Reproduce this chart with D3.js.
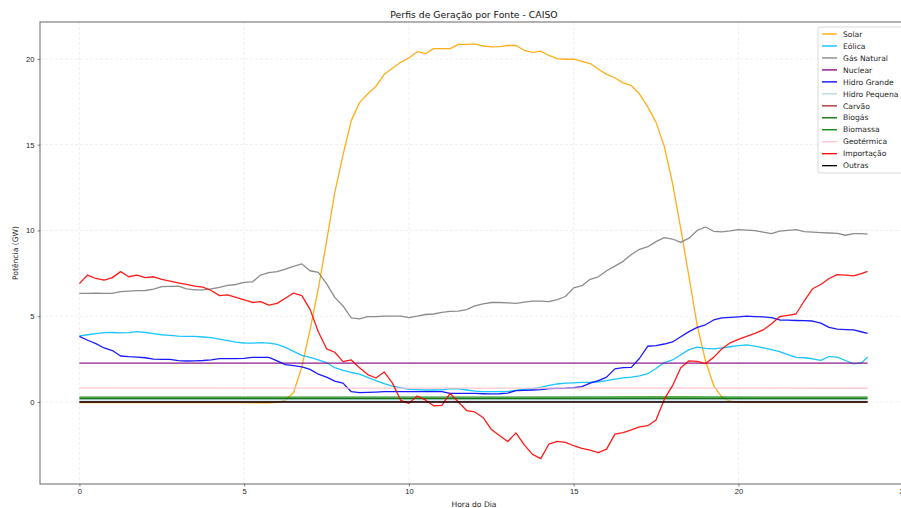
<!DOCTYPE html>
<html>
<head>
<meta charset="utf-8">
<script src="https://cdn.jsdelivr.net/npm/d3@7"></script>
<style>
  body { margin: 0; background: #fff; }
  svg { font-family: "DejaVu Sans", sans-serif; }
  .grid line { stroke: #e8e8e8; stroke-width: 0.7; stroke-dasharray: 3,2; }
  .axis path { display: none; }
  .axis line { stroke: #333; stroke-width: 0.6; }
  .axis text { font-size: 7.6px; fill: #222; }
</style>
</head>
<body>
<script>
// hour of day, 15 minute steps (last sample at 23:55)
const hours = d3.range(0, 24, 0.25).concat([23.92]);
// coarse hours for the almost constant sources
const hoursFlat = [0, 6, 12, 18, 23.92];

const xTicks = [0, 5, 10, 15, 20, 25];
const yTicks = [0, 5, 10, 15, 20];

// values in GW
const solar = [
  -0.03, -0.03, -0.03, -0.03, -0.03, -0.03, -0.03, -0.03,
  -0.03, -0.03, -0.03, -0.03, -0.03, -0.03, -0.03, -0.03,
  -0.03, -0.03, -0.03, -0.03, -0.03, -0.05, -0.03, -0.05,
  -0.02, 0.1, 0.55, 2.05, 4.2, 6.6, 9.35, 12.2,
  14.4, 16.4, 17.45, 17.95, 18.4, 19.1, 19.45, 19.8,
  20.05, 20.42, 20.3, 20.6, 20.6, 20.6, 20.85, 20.85,
  20.87, 20.75, 20.7, 20.72, 20.78, 20.78, 20.5, 20.38,
  20.45, 20.2, 20.02, 19.98, 19.98, 19.85, 19.73, 19.4,
  19.1, 18.9, 18.6, 18.45, 17.95, 17.2, 16.3, 14.9,
  12.75, 10.1, 7.3, 4.45, 2.4, 0.95, 0.27, 0.05,
  -0.02, -0.02, -0.02, -0.02, -0.02, -0.02, -0.02, -0.02,
  -0.02, -0.02, -0.02, -0.02, -0.02, -0.02, -0.02, -0.02,
  -0.02
];
const wind = [
  3.85, 3.92, 3.98, 4.04, 4.05, 4.03, 4.04, 4.1,
  4.05, 3.98, 3.92, 3.88, 3.84, 3.83, 3.82, 3.79,
  3.75, 3.66, 3.58, 3.49, 3.44, 3.43, 3.46, 3.43,
  3.36, 3.18, 2.95, 2.72, 2.6, 2.46, 2.3, 2.0,
  1.85, 1.72, 1.63, 1.43, 1.25, 1.07, 0.93, 0.83,
  0.74, 0.72, 0.7, 0.7, 0.71, 0.78, 0.76, 0.7,
  0.63, 0.6, 0.6, 0.6, 0.62, 0.68, 0.73, 0.78,
  0.85, 0.97, 1.05, 1.1, 1.12, 1.14, 1.15, 1.18,
  1.24, 1.33, 1.4, 1.45, 1.52, 1.65, 1.95, 2.3,
  2.45, 2.75, 3.05, 3.2, 3.12, 3.1, 3.16, 3.22,
  3.28, 3.33, 3.26, 3.15, 3.05, 2.93, 2.76, 2.6,
  2.58, 2.52, 2.43, 2.65, 2.62, 2.42, 2.22, 2.3,
  2.62
];
const gas = [
  6.33, 6.33, 6.34, 6.33, 6.33, 6.43, 6.46, 6.49,
  6.5, 6.58, 6.72, 6.74, 6.76, 6.6, 6.53, 6.53,
  6.6, 6.68, 6.8, 6.85, 6.97, 7.0, 7.4, 7.54,
  7.6, 7.75, 7.9, 8.05, 7.65, 7.55, 6.9, 6.1,
  5.6, 4.9, 4.85, 4.98, 4.98, 5.0, 5.01, 5.01,
  4.92, 5.0, 5.1, 5.13, 5.22, 5.28, 5.3, 5.38,
  5.6, 5.72, 5.8, 5.8, 5.78, 5.75, 5.82, 5.88,
  5.88, 5.85, 5.97, 6.15, 6.65, 6.78, 7.15, 7.3,
  7.65, 7.92, 8.2, 8.6, 8.9, 9.05, 9.35, 9.58,
  9.5, 9.3, 9.55, 10.0, 10.2, 9.95, 9.92, 9.97,
  10.05, 10.02, 9.99, 9.9, 9.82, 9.96, 10.0, 10.05,
  9.93, 9.9, 9.87, 9.85, 9.83, 9.72, 9.82, 9.82,
  9.78
];
const hydroBig = [
  3.82, 3.6, 3.4, 3.15, 3.0, 2.68, 2.64, 2.62,
  2.58, 2.5, 2.48, 2.48, 2.41, 2.39, 2.4, 2.42,
  2.46, 2.53, 2.53, 2.53, 2.54, 2.6, 2.6, 2.6,
  2.4, 2.18, 2.12, 2.05, 1.9, 1.62, 1.45, 1.22,
  1.1, 0.6, 0.55, 0.56, 0.58, 0.6, 0.6, 0.6,
  0.6, 0.6, 0.6, 0.6, 0.6, 0.5, 0.5, 0.5,
  0.5, 0.48, 0.47, 0.48, 0.52, 0.66, 0.68, 0.7,
  0.72, 0.78, 0.79, 0.8, 0.83, 0.9, 1.1, 1.25,
  1.45, 1.93, 2.0, 2.02, 2.55, 3.25, 3.29, 3.38,
  3.5, 3.8, 4.1, 4.35, 4.5, 4.78, 4.9, 4.93,
  4.96, 5.0, 4.98, 4.96, 4.92, 4.78, 4.77, 4.75,
  4.74, 4.72, 4.6, 4.35, 4.25, 4.22, 4.2, 4.08,
  4.0
];
const imports = [
  6.9, 7.4, 7.2, 7.1, 7.25, 7.6, 7.3, 7.4,
  7.25, 7.3, 7.15, 7.05, 6.95, 6.85, 6.75, 6.7,
  6.5, 6.2, 6.25, 6.1, 5.95, 5.8, 5.85, 5.65,
  5.75, 6.05, 6.35, 6.2, 5.4, 4.1, 3.1, 2.9,
  2.35, 2.45, 2.0, 1.6, 1.4, 1.75, 1.1, 0.1,
  -0.08, 0.35, 0.12, -0.22, -0.2, 0.5, 0.0, -0.5,
  -0.58, -0.9, -1.6, -1.95, -2.3, -1.8, -2.5, -3.05,
  -3.3, -2.45, -2.3, -2.35, -2.55, -2.7, -2.8, -2.95,
  -2.75, -1.87, -1.79, -1.62, -1.45, -1.38, -1.05, 0.15,
  0.95, 2.0, 2.4, 2.37, 2.24, 2.6, 3.1, 3.45,
  3.65, 3.82, 4.0, 4.2, 4.55, 4.97, 5.05, 5.13,
  5.9, 6.6, 6.85, 7.2, 7.42, 7.4, 7.35, 7.5,
  7.62
];
const nuclear = [2.27, 2.27, 2.27, 2.27, 2.27];
const hydroSmall = [0.12, 0.12, 0.12, 0.12, 0.12];
const coal = [0.01, 0.01, 0.01, 0.01, 0.01];
const biogas = [0.2, 0.2, 0.2, 0.2, 0.2];
const biomass = [0.28, 0.28, 0.28, 0.29, 0.28];
const geothermal = [0.82, 0.81, 0.81, 0.81, 0.8];
const others = [0.0, 0.0, 0.0, 0.0, 0.0];

const seriesNames = ["Solar", "Eólica", "Gás Natural", "Nuclear", "Hidro Grande", "Hidro Pequena",
                     "Carvão", "Biogás", "Biomassa", "Geotérmica", "Importação", "Outras"];
const seriesColors = ["#ffa500", "#00bfff", "#808080", "#800080", "#0000ff", "#add8e6",
                      "#a52a2a", "#006400", "#008000", "#ffc0cb", "#ff0000", "#000000"];
const seriesValues = [solar, wind, gas, nuclear, hydroBig, hydroSmall,
                      coal, biogas, biomass, geothermal, imports, others];

const width = 901, height = 508;
const margin = {left: 40, top: 22, right: 907, bottom: 484};

const svg = d3.select("body").append("svg").attr("width", width).attr("height", height);

// matplotlib-like 5% padding around the data
const xScale = d3.scaleLinear().domain([-1.196, 25.116]).range([margin.left, margin.right]);
const yScale = d3.scaleLinear().domain([-4.78, 22.15]).range([margin.bottom, margin.top]);

svg.append("clipPath").attr("id", "plotClip")
  .append("rect").attr("x", margin.left).attr("y", margin.top)
  .attr("width", margin.right - margin.left).attr("height", margin.bottom - margin.top);

// grid
const grid = svg.append("g").attr("class", "grid");
grid.selectAll(".gx").data(xTicks).join("line")
  .attr("x1", d => xScale(d)).attr("x2", d => xScale(d))
  .attr("y1", margin.top).attr("y2", margin.bottom);
grid.selectAll(".gy").data(yTicks).join("line")
  .attr("x1", margin.left).attr("x2", margin.right)
  .attr("y1", d => yScale(d)).attr("y2", d => yScale(d));

// lines
const plot = svg.append("g").attr("clip-path", "url(#plotClip)");
seriesValues.forEach((vals, i) => {
  const xs = vals.length === hours.length ? hours : hoursFlat;
  const line = d3.line().x((d, j) => xScale(xs[j])).y(d => yScale(d));
  plot.append("path")
    .attr("d", line(vals))
    .attr("fill", "none")
    .attr("stroke", seriesColors[i])
    .attr("stroke-width", 1.3)
    .attr("stroke-opacity", 0.9)
    .attr("stroke-linejoin", "round");
});

// frame
svg.append("rect")
  .attr("x", margin.left).attr("y", margin.top)
  .attr("width", margin.right - margin.left).attr("height", margin.bottom - margin.top)
  .attr("fill", "none").attr("stroke", "#666").attr("stroke-width", 1);

// axes
svg.append("g").attr("class", "axis")
  .attr("transform", "translate(0," + margin.bottom + ")")
  .call(d3.axisBottom(xScale).tickValues(xTicks).tickFormat(d3.format("d")).tickSize(2.5).tickPadding(2.5));
svg.append("g").attr("class", "axis")
  .attr("transform", "translate(" + margin.left + ",0)")
  .call(d3.axisLeft(yScale).tickValues(yTicks).tickFormat(d3.format("d")).tickSize(2.5).tickPadding(3));

// titles
svg.append("text").attr("x", 474).attr("y", 18).attr("text-anchor", "middle")
  .attr("font-size", 9.3).attr("fill", "#111").text("Perfis de Geração por Fonte - CAISO");
svg.append("text").attr("x", 474).attr("y", 507).attr("text-anchor", "middle")
  .attr("font-size", 7.6).attr("fill", "#222").text("Hora do Dia");
svg.append("text").attr("transform", "translate(18,253) rotate(-90)").attr("text-anchor", "middle")
  .attr("font-size", 7.6).attr("fill", "#222").text("Potência (GW)");

// legend
const legend = svg.append("g").attr("transform", "translate(818,27)");
legend.append("rect").attr("width", 92).attr("height", 146).attr("rx", 2)
  .attr("fill", "#fff").attr("fill-opacity", 0.85).attr("stroke", "#d0d0d0").attr("stroke-width", 0.8);
seriesNames.forEach((name, i) => {
  const yy = 7 + i * 11.97;
  legend.append("line").attr("x1", 4).attr("x2", 19).attr("y1", yy).attr("y2", yy)
    .attr("stroke", seriesColors[i]).attr("stroke-width", 1.3);
  legend.append("text").attr("x", 25).attr("y", yy + 2.7)
    .attr("font-size", 7.6).attr("fill", "#222").text(name);
});
</script>
</body>
</html>
